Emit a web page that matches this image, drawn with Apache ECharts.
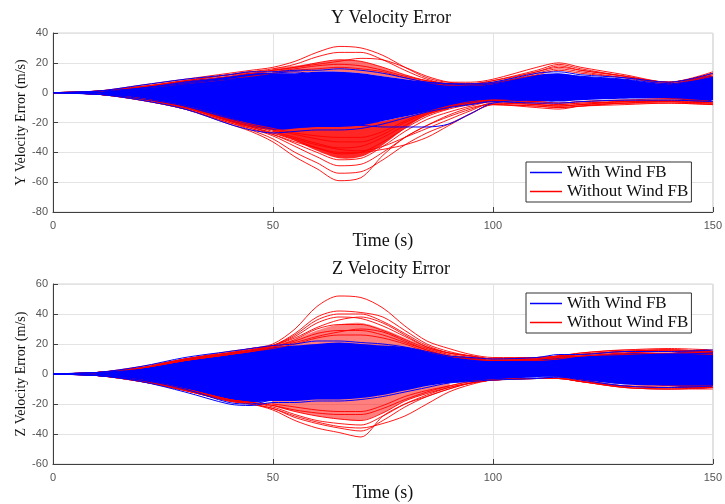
<!DOCTYPE html>
<html>
<head>
<meta charset="utf-8">
<script src="https://cdn.jsdelivr.net/npm/echarts@6/dist/echarts.min.js"></script>
<style>
  html, body { margin: 0; padding: 0; background: #fff; }
  #chart { width: 725px; height: 504px; }
</style>
</head>
<body>
<div id="chart"></div>
<script>
// sample times (s) for every run
const time = [0, 10, 20, 30, 40, 45, 50, 55, 60, 65, 70, 75, 80, 85, 90, 95, 100, 110, 115, 120, 130, 140, 150]
// times for the dense red cores
const coreTime = [50, 55, 60, 65, 70, 75, 80, 85, 90]

// ---- Y velocity error ----
const yWithBandHigh = [0, 1, 4, 8, 11, 13, 13, 13, 14, 14, 13, 11, 9, 7, 6, 6, 7, 12, 13, 11, 9, 6, 11]
const yWithBandLow = [0, -1, -4, -10, -19, -23, -25, -24, -23, -23, -22, -19, -16, -13, -10, -8, -6, -6, -6, -5, -4, -4, -5]
const yWithFB = [
  [0, 1, 5, 9, 12, 14, 14, 15, 15, 16, 15, 13, 10, 7, 6, 6, 7, 13, 14, 12, 10, 7, 13],
  [0, 1, 3, 7, 10, 12, 13, 14, 12, 11, 10, 9, 8, 7, 6, 5, 6, 11, 12, 11, 9, 6, 10],
  [0, -1, -5, -11, -21, -25, -27, -26, -25, -25, -24, -21, -17, -13, -10, -8, -6, -7, -7, -6, -5, -5, -6],
  [0, -1, -4, -9, -17, -20, -22, -22, -22, -22, -22, -23, -23, -23, -21, -14, -7, -5, -5, -4, -3, -3, -4],
  [0, 0, 2, 3, 4, 5, 6, 4, 2, 1, 0, -1, -2, -1, 0, 1, 2, 5, 6, 5, 3, 2, 4],
  [0, -1, -2, -5, -10, -12, -14, -15, -16, -15, -14, -12, -10, -8, -6, -4, -3, -2, -2, -1, -1, -1, -1],
  [0, 0, 3, 6, 9, 10, 11, 9, 7, 5, 4, 3, 3, 3, 3, 3, 4, 9, 10, 9, 7, 5, 9],
  [0, -1, -3, -8, -15, -18, -19, -18, -17, -18, -18, -16, -14, -11, -8, -5, -4, -4, -4, -3, -2, -2, -3]
]
const yWithoutFB = [
  [0, 1, 5, 9, 13, 15, 17, 21, 27, 31, 30, 25, 17, 10, 7, 7, 9, 17, 20, 17, 12, 7, 14],
  [0, 1, 4, 8, 12, 14, 16, 19, 24, 27, 27, 22, 15, 9, 6, 6, 8, 15, 19, 16, 11, 7, 13],
  [0, 1, 4, 8, 12, 14, 15, 17, 20, 22, 21, 17, 12, 8, 6, 6, 7, 14, 17, 15, 11, 6, 12],
  [0, 1, 4, 7, 11, 13, 14, 16, 18, 19, 18, 15, 11, 8, 6, 5, 6, 13, 16, 14, 10, 6, 11],
  [0, 1, 3, 6, 9, 11, 13, 15, 16, 17, 16, 14, 10, 7, 5, 5, 6, 12, 15, 13, 10, 7, 12],
  [0, 1, 4, 8, 12, 13, 15, 17, 19, 21, 23, 22, 17, 11, 7, 6, 8, 14, 18, 15, 11, 7, 13],
  [0, -1, -5, -11, -21, -26, -33, -43, -51, -59, -57, -42, -30, -22, -15, -10, -8, -10, -11, -9, -7, -7, -8],
  [0, -1, -5, -11, -20, -25, -31, -40, -47, -54, -53, -45, -35, -27, -21, -14, -8, -9, -10, -9, -8, -7, -8],
  [0, -1, -5, -11, -20, -24, -29, -36, -43, -49, -48, -40, -30, -22, -16, -11, -7, -8, -9, -8, -7, -6, -7],
  [0, -1, -4, -10, -19, -23, -28, -34, -40, -45, -44, -36, -26, -18, -13, -9, -6, -8, -9, -8, -6, -6, -7],
  [0, -1, -4, -10, -19, -23, -27, -32, -37, -41, -40, -33, -24, -16, -11, -8, -6, -7, -8, -7, -6, -5, -7],
  [0, -1, -4, -10, -18, -22, -26, -30, -34, -37, -36, -30, -22, -15, -10, -7, -5, -7, -8, -7, -6, -5, -6],
  [0, -1, -4, -10, -18, -22, -25, -28, -31, -33, -33, -28, -20, -14, -9, -7, -5, -6, -7, -6, -5, -5, -6],
  [0, -1, -4, -9, -17, -21, -24, -27, -29, -30, -30, -26, -19, -13, -9, -6, -5, -6, -7, -6, -5, -4, -6],
  [0, -1, -4, -10, -19, -24, -28, -33, -37, -40, -40, -38, -35, -30, -22, -14, -8, -9, -10, -9, -7, -6, -8],
  [0, -1, -4, -10, -19, -23, -27, -31, -35, -38, -39, -36, -30, -24, -18, -12, -7, -8, -9, -8, -6, -6, -7]
]
// dense red cores above and below the blue band
const yUpperCoreHigh = [16, 18, 20, 22, 21, 17, 12, 8, 6]
const yUpperCoreLow = [13, 13, 14, 14, 13, 11, 9, 7, 5]
const yLowerCoreHigh = [-24, -23, -22, -22, -21, -19, -16, -13, -10]
const yLowerCoreLow = [-26, -32, -39, -44, -43, -35, -24, -15, -11]

// ---- Z velocity error ----
const zWithBandHigh = [0, 1, 4, 10, 14, 16, 18, 19, 20, 21, 20, 19, 18, 15, 12, 11, 9, 10, 12, 12, 14, 14, 15]
const zWithBandLow = [0, -1, -5, -11, -18, -19, -18, -18, -17, -17, -16, -14, -11, -8, -6, -5, -4, -2, -2, -4, -7, -8, -8]
const zWithFB = [
  [0, 1, 5, 11, 15, 17, 19, 20, 22, 22, 21, 20, 18, 15, 12, 11, 10, 11, 13, 13, 15, 15, 16],
  [0, -1, -5, -12, -20, -21, -19, -19, -18, -18, -17, -15, -12, -9, -6, -5, -4, -3, -2, -4, -8, -9, -8],
  [0, -1, -4, -10, -19, -20, -17, -14, -12, -11, -10, -9, -8, -6, -4, -3, -2, -1, -1, -3, -6, -7, -7],
  [0, 1, 3, 7, 10, 12, 14, 16, 17, 18, 17, 15, 12, 10, 9, 8, 7, 8, 9, 10, 12, 13, 14],
  [0, 0, 1, 2, 3, 4, 5, 5, 4, 3, 2, 2, 2, 2, 3, 3, 3, 4, 5, 5, 4, 4, 4],
  [0, -1, -3, -6, -9, -10, -11, -11, -12, -12, -11, -10, -8, -6, -4, -3, -2, -1, -1, -2, -4, -5, -5],
  [0, 1, 2, 5, 8, 9, 10, 11, 12, 13, 12, 11, 10, 9, 8, 7, 6, 7, 8, 9, 10, 11, 12],
  [0, -1, -4, -8, -14, -16, -16, -16, -16, -15, -14, -12, -10, -7, -5, -4, -3, -2, -2, -3, -6, -7, -6]
]
const zWithoutFB = [
  [0, 1, 5, 10, 15, 17, 20, 30, 45, 52, 51, 44, 32, 22, 17, 13, 11, 11, 12, 14, 16, 17, 16],
  [0, 1, 4, 10, 14, 17, 19, 27, 38, 42, 41, 38, 29, 20, 15, 12, 10, 11, 12, 14, 16, 16, 15],
  [0, 1, 4, 9, 14, 16, 19, 25, 34, 38, 37, 32, 25, 18, 14, 12, 10, 10, 12, 13, 15, 16, 15],
  [0, 1, 4, 9, 13, 16, 18, 23, 30, 33, 33, 29, 23, 17, 13, 11, 9, 10, 11, 13, 15, 15, 14],
  [0, 1, 4, 9, 13, 15, 18, 22, 27, 29, 29, 26, 21, 16, 12, 11, 9, 10, 11, 12, 14, 15, 14],
  [0, 1, 4, 9, 13, 15, 17, 20, 24, 26, 26, 24, 20, 15, 12, 10, 9, 9, 10, 12, 13, 14, 13],
  [0, 1, 4, 10, 14, 16, 19, 24, 31, 36, 38, 34, 26, 18, 14, 12, 10, 11, 12, 13, 15, 16, 15],
  [0, 1, 4, 9, 13, 15, 18, 21, 25, 28, 30, 28, 22, 16, 12, 10, 9, 10, 11, 12, 14, 15, 14],
  [0, 1, 4, 10, 14, 16, 19, 26, 36, 40, 40, 35, 27, 19, 14, 12, 10, 10, 12, 13, 15, 16, 15],
  [0, -1, -5, -11, -18, -20, -24, -31, -36, -39, -42, -28, -20, -15, -10, -6, -4, -3, -3, -5, -9, -10, -10],
  [0, -1, -5, -11, -18, -20, -23, -29, -33, -36, -38, -31, -22, -15, -10, -6, -4, -3, -3, -5, -9, -10, -9],
  [0, -1, -5, -10, -17, -19, -22, -27, -31, -33, -34, -28, -20, -14, -9, -6, -4, -3, -3, -5, -8, -9, -9],
  [0, -1, -4, -10, -17, -19, -21, -25, -28, -30, -31, -26, -18, -13, -9, -6, -4, -3, -3, -5, -8, -9, -9],
  [0, -1, -4, -10, -17, -19, -21, -24, -26, -27, -27, -23, -17, -12, -8, -5, -4, -3, -3, -4, -8, -9, -8],
  [0, -1, -4, -10, -17, -19, -20, -22, -24, -25, -25, -21, -15, -11, -8, -5, -4, -3, -2, -4, -8, -8, -8],
  [0, -1, -5, -11, -18, -20, -23, -28, -32, -35, -36, -33, -28, -20, -12, -7, -4, -3, -3, -5, -9, -10, -9]
]
const zUpperCoreHigh = [19, 23, 29, 33, 34, 30, 24, 18, 13]
const zUpperCoreLow = [17, 18, 19, 20, 19, 18, 17, 14, 11]
const zLowerCoreHigh = [-17, -17, -16, -16, -15, -13, -10, -8, -6]
const zLowerCoreLow = [-21, -25, -28, -30, -31, -26, -18, -13, -9]

const xTicks = { min: 0, max: 150, interval: 50 }
const yTicks = [{ min: -80, max: 40, interval: 20 }, { min: -60, max: 60, interval: 20 }]
const titles = ['Y Velocity Error', 'Z Velocity Error']
const yNames = ['Y Velocity Error (m/s)', 'Z Velocity Error (m/s)']

const BLUE = '#0000ff'
const RED = '#ff0000'
const SMOOTH = 0.3
const serif = 'Liberation Serif'
const sans = 'Liberation Sans'

function runLines(curves, name, color, width, gi) {
  return curves.map(c => ({
    type: 'line', name, xAxisIndex: gi, yAxisIndex: gi,
    data: time.map((t, i) => [t, c[i]]),
    smooth: SMOOTH, symbol: 'none', silent: true,
    lineStyle: { color, width }, itemStyle: { color },
    emphasis: { disabled: true }
  }))
}

// solid region between a low and a high envelope
function band(t, lo, hi, color, opacity, gi) {
  return {
    type: 'custom', xAxisIndex: gi, yAxisIndex: gi, silent: true, clip: true,
    data: [[t[0], lo[0]]],
    renderItem: (params, api) => {
      const top = t.map((x, i) => api.coord([x, hi[i]]))
      const bottom = t.map((x, i) => api.coord([x, lo[i]])).reverse()
      return {
        type: 'polygon',
        shape: { points: top.concat(bottom), smooth: SMOOTH },
        style: { fill: color, opacity }
      }
    }
  }
}

const series = [
  band(coreTime, yUpperCoreLow, yUpperCoreHigh, RED, 0.55, 0),
  band(coreTime, yLowerCoreLow, yLowerCoreHigh, RED, 0.85, 0),
  ...runLines(yWithoutFB, 'Without Wind FB', RED, 0.9, 0),
  band(time, yWithBandLow, yWithBandHigh, BLUE, 1, 0),
  ...runLines(yWithFB, 'With Wind FB', BLUE, 1, 0),
  band(coreTime, zUpperCoreLow, zUpperCoreHigh, RED, 0.5, 1),
  band(coreTime, zLowerCoreLow, zLowerCoreHigh, RED, 0.5, 1),
  ...runLines(zWithoutFB, 'Without Wind FB', RED, 0.9, 1),
  band(time, zWithBandLow, zWithBandHigh, BLUE, 1, 1),
  ...runLines(zWithFB, 'With Wind FB', BLUE, 1, 1)
]

const grids = [
  { left: 53, right: 6, top: 33, height: 179 },
  { left: 53, right: 6, top: 284, height: 180 }
]

const chart = echarts.init(document.getElementById('chart'))
chart.setOption({
  animation: false,
  backgroundColor: '#fff',
  title: titles.map((t, i) => ({
    text: t, left: 386, textAlign: 'center', top: i === 0 ? 4 : 255,
    textStyle: { fontFamily: serif, fontSize: 18, fontWeight: 'normal', color: '#111' }
  })),
  grid: grids.map(g => ({ ...g, show: true, borderColor: '#d4d4d4', borderWidth: 1, backgroundColor: '#fff' })),
  legend: [162, 293].map(top => ({
    data: ['With Wind FB', 'Without Wind FB'],
    orient: 'vertical', left: 526, top,
    icon: 'rect', itemWidth: 32, itemHeight: 1.5, itemGap: 2,
    padding: [2, 3, 2, 4],
    borderColor: '#333', borderWidth: 1, backgroundColor: '#fff',
    textStyle: { fontFamily: serif, fontSize: 17, color: '#111', lineHeight: 17 },
    selectedMode: false, z: 20
  })),
  xAxis: [0, 1].map(i => ({
    type: 'value', gridIndex: i, ...xTicks,
    name: 'Time (s)', nameLocation: 'middle', nameGap: 20,
    nameTextStyle: { fontFamily: serif, fontSize: 18, color: '#111' },
    axisLine: { onZero: false, lineStyle: { color: '#404040' } },
    axisTick: { inside: true, length: 5, lineStyle: { color: '#404040' } },
    axisLabel: { margin: 8, fontFamily: sans, fontSize: 11, color: '#555' },
    splitLine: { show: true, lineStyle: { color: '#e3e3e3' } }
  })),
  yAxis: [0, 1].map(i => ({
    type: 'value', gridIndex: i, ...yTicks[i],
    name: yNames[i], nameLocation: 'middle', nameGap: 25, nameMoveOverlap: false,
    nameTextStyle: { fontFamily: serif, fontSize: 14, color: '#111' },
    axisLine: { show: true, onZero: false, lineStyle: { color: '#404040' } },
    axisTick: { show: true, inside: true, length: 5, lineStyle: { color: '#404040' } },
    axisLabel: { margin: 5, fontFamily: sans, fontSize: 11, color: '#555' },
    splitLine: { show: true, lineStyle: { color: '#e3e3e3' } }
  })),
  series
})
</script>
</body>
</html>
